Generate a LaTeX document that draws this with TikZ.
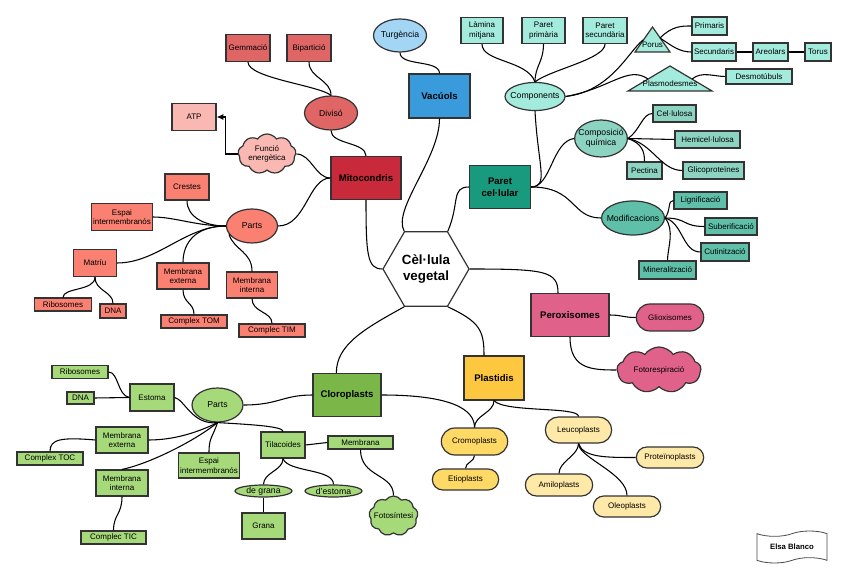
\documentclass[tikz,border=0pt]{standalone}
\usepackage{fontspec}
\setmainfont{Liberation Sans}
\usepackage{tikz}
\usetikzlibrary{arrows.meta,shapes.geometric,shapes.misc,shapes.symbols}
\definecolor{mitored}{HTML}{C92A3B}
\definecolor{mitolight}{HTML}{E06666}
\definecolor{mitopink}{HTML}{F9B9B2}
\definecolor{salmon}{HTML}{FA8072}
\definecolor{vacblue}{HTML}{3A9BDC}
\definecolor{vaclight}{HTML}{A3D5F5}
\definecolor{paretgreen}{HTML}{19997D}
\definecolor{aqua}{HTML}{A3EBDC}
\definecolor{tealmid}{HTML}{8DD3C2}
\definecolor{tealdark}{HTML}{5FBFA8}
\definecolor{peroxpink}{HTML}{E0628B}
\definecolor{chlgreen}{HTML}{7AB648}
\definecolor{chllight}{HTML}{A5D97A}
\definecolor{plastyellow}{HTML}{FDC73F}
\definecolor{yellowmid}{HTML}{FFD966}
\definecolor{yellowlight}{HTML}{FFE9A8}
\tikzset{
  sz/.style 2 args={minimum width=#1*.75pt,minimum height=#2*.75pt},
  box/.style={draw=black!80,line width=.9pt,fill=#1,align=center,inner sep=1pt,font=\fontsize{6}{7}\selectfont},
  box/.default=white,
  mainbox/.style={box=#1,font=\fontsize{7.2}{8.8}\selectfont\bfseries},
  oval/.style={box=#1,ellipse,inner xsep=-3pt,inner ysep=0pt,font=\fontsize{6.5}{7.5}\selectfont},
  pill/.style={box=#1,rounded rectangle},
  puff/.style={box=#1,cloud,cloud puffs=9,cloud puff arc=110,cloud ignores aspect,inner xsep=-2pt,inner ysep=0pt},
  tri/.style={draw=black!80,line width=.9pt,fill=aqua},
  link/.style={line width=.8pt},
}

\begin{document}
\begin{tikzpicture}[x=0.75pt,y=-0.75pt]
  \useasboundingbox (0,0) rectangle (848,580);
  % centre and main groups
  \node[draw=black!80,line width=.9pt,fill=white,regular polygon,regular polygon sides=6,minimum size=86*.75pt,inner sep=0pt,align=center,font=\fontsize{10}{12.5}\selectfont\bfseries] (cell) at (426,269) {Cèl·lula\\vegetal};
  \node[mainbox=mitored,sz={70}{43}] (mito) at (366,178) {Mitocondris};
  \node[mainbox=vacblue,sz={61}{44}] (vac) at (439.5,96) {Vacúols};
  \node[mainbox=paretgreen,sz={61}{43}] (par) at (500,187) {Paret\\cel·lular};
  \node[mainbox=peroxpink,sz={78}{43}] (perox) at (570,315) {Peroxisomes};
  \node[mainbox=chlgreen,sz={68}{43}] (chl) at (347,395) {Cloroplasts};
  \node[mainbox=plastyellow,sz={60}{44}] (plast) at (494,378) {Plastidis};

  % mitocondris
  \node[oval=mitolight,sz={53}{34}] (div) at (331,113) {Divisó};
  \node[box=mitolight,sz={44}{27}] (gem) at (248,48) {Gemmació};
  \node[box=mitolight,sz={44}{27}] (bip) at (309,48) {Bipartició};
  \node[puff=mitopink,sz={58}{40}] (fe) at (267,154) {Funció\\energètica};
  \node[box=mitopink,sz={44}{27}] (atp) at (194,117) {ATP};
  \node[oval=salmon,sz={51}{34}] (parts1) at (252,226) {Parts};
  \node[box=salmon,sz={44}{26}] (crest) at (187,187) {Crestes};
  \node[box=salmon,sz={60}{27}] (espai1) at (122,217) {Espai\\intermembranós};
  \node[box=salmon,sz={43}{27}] (matriu) at (95,263) {Matríu};
  \node[box=salmon,sz={52}{26}] (mext1) at (183,276) {Membrana\\externa};
  \node[box=salmon,sz={51}{26}] (mint1) at (252,285) {Membrana\\interna};
  \node[box=salmon,sz={57}{13}] (ribo1) at (63,304.5) {Ribosomes};
  \node[box=salmon,sz={26}{14}] (dna1) at (113,311) {DNA};
  \node[box=salmon,sz={66}{13}] (tom) at (194,321.5) {Complex TOM};
  \node[box=salmon,sz={66}{13}] (tim) at (272,330.5) {Complec TIM};

  % vacuols
  \node[oval=vaclight,sz={53}{33}] (turg) at (400,35.5) {Turgència};

  % paret cel.lular
  \node[oval=aqua,sz={60}{28}] (comp) at (535,96.5) {Components};
  \node[box=aqua,sz={42}{26}] (lam) at (482,30.5) {Làmina\\mitjana};
  \node[box=aqua,sz={43}{26}] (pp) at (543.5,30.5) {Paret\\primària};
  \node[box=aqua,sz={44}{26}] (ps) at (605,30.5) {Paret\\secundària};
  \draw[tri] (635,52) -- (652.5,27) -- (670,52) -- cycle;
  \node[font=\fontsize{6}{7}\selectfont,inner sep=0pt] (porus) at (652.5,44.5) {Porus};
  \draw[tri] (628,91) -- (670,66) -- (712,91) -- cycle;
  \node[font=\fontsize{6}{7}\selectfont,inner sep=0pt] (plasmo) at (670,84) {Plasmodesmes};
  \coordinate (porusL) at (643,40);
  \coordinate (porusR) at (660,38);
  \coordinate (plasL) at (648,79);
  \coordinate (plasR) at (692,79);
  \node[box=aqua,sz={35}{18}] (prim) at (709.5,26) {Primaris};
  \node[box=aqua,sz={44}{18}] (secu) at (714,52) {Secundaris};
  \node[box=aqua,sz={35}{18}] (areo) at (770.5,52) {Areolars};
  \node[box=aqua,sz={26}{18}] (torus) at (818,52) {Torus};
  \node[box=aqua,sz={66}{15}] (desmo) at (759,76.5) {Desmotúbuls};
  \node[oval=tealmid,sz={52}{37}] (compq) at (601,138.5) {Composició\\química};
  \node[box=tealmid,sz={43}{17}] (cel) at (674.5,113.5) {Cel·lulosa};
  \node[box=tealmid,sz={65}{17}] (hemi) at (707.5,139.5) {Hemicel·lulosa};
  \node[box=tealmid,sz={35}{17}] (pect) at (644.5,170.5) {Pectina};
  \node[box=tealmid,sz={61}{17}] (glic) at (713.5,170.5) {Glicoproteïnes};
  \node[oval=tealdark,sz={58}{34}] (modif) at (633,218) {Modificacions};
  \node[box=tealdark,sz={53}{17}] (lig) at (700.5,200.5) {Lignificació};
  \node[box=tealdark,sz={52}{17}] (sub) at (731,226.5) {Suberificació};
  \node[box=tealdark,sz={48}{18}] (cut) at (725,252) {Cutinització};
  \node[box=tealdark,sz={57}{18}] (mine) at (667.5,270) {Mineralització};

  % peroxisomes
  \node[pill=peroxpink,sz={70}{27}] (gliox) at (670,317.5) {Glioxisomes};
  \node[puff=peroxpink,sz={84}{46}] (foto) at (659,370) {Fotorespiració};

  % cloroplasts
  \node[oval=chllight,sz={51}{34}] (parts2) at (217.5,405) {Parts};
  \node[box=chllight,sz={44}{27}] (estoma) at (152,397.5) {Estoma};
  \node[box=chllight,sz={56}{13}] (ribo2) at (80,372) {Ribosomes};
  \node[box=chllight,sz={27}{12}] (dna2) at (80.5,398) {DNA};
  \node[box=chllight,sz={52}{26}] (mext2) at (122,440) {Membrana\\externa};
  \node[box=chllight,sz={66}{13}] (toc) at (50,458.5) {Complex TOC};
  \node[box=chllight,sz={52}{26}] (mint2) at (122,483) {Membrana\\interna};
  \node[box=chllight,sz={65}{13}] (tic) at (113.5,537.5) {Complec TIC};
  \node[box=chllight,sz={60}{25}] (espai2) at (209,465.5) {Espai\\intermembranós};
  \node[box=chllight,sz={44}{26}] (til) at (283,445) {Tilacoides};
  \node[box=chllight,sz={65}{13}] (memb) at (360.5,442.5) {Membrana};
  \node[oval=chllight,sz={57}{12}] (dgrana) at (263.5,491) {de grana};
  \node[oval=chllight,sz={57}{12}] (destoma) at (333.5,491) {d'estoma};
  \node[box=chllight,sz={43}{26}] (grana) at (263.5,526) {Grana};
  \node[puff=chllight,sz={49}{40}] (fotos) at (393.5,516) {Fotosíntesi};

  % plastidis
  \node[pill=yellowmid,sz={69}{27}] (crom) at (474.5,441.5) {Cromoplasts};
  \node[pill=yellowmid,sz={69}{21}] (etio) at (465.5,479.5) {Etioplasts};
  \node[pill=yellowlight,sz={69}{26}] (leuc) at (578.5,430) {Leucoplasts};
  \node[pill=yellowlight,sz={70}{22}] (amil) at (559,485) {Amiloplasts};
  \node[pill=yellowlight,sz={70}{21}] (oleo) at (627,506.5) {Oleoplasts};
  \node[pill=yellowlight,sz={70}{21}] (prot) at (670,457.5) {Proteïnoplasts};

  \node[tape,draw=black!70,line width=.6pt,fill=white,sz={70}{32},tape bend height=4pt,font=\fontsize{5.8}{7}\selectfont\bfseries] (author) at (792,547) {Elsa Blanco};

  % links from the centre
  \draw[link] (mito.south) .. controls +(0,55) and +(-15,0) .. (cell.180);
  \draw[link] (cell.120) .. controls +(-12,-22) and +(0,40) .. (vac.south);
  \draw[link] (cell.60) .. controls +(12,-28) and +(-18,0) .. (par.west);
  \draw[link] (cell.0) .. controls +(75,0) and +(0,-22) .. ([xshift=-9pt]perox.north);
  \draw[link] (cell.240) .. controls +(-40,22) and +(0,-28) .. ([xshift=-8pt]chl.north);
  \draw[link] (cell.300) .. controls +(32,15) and +(0,-25) .. ([xshift=-7.5pt]plast.north);

  % mitocondris links
  \draw[link] (mito.north) .. controls +(0,-14) and +(0,14) .. (div.south);
  \draw[link] (gem.south) .. controls +(0,16) and +(-12,-10) .. (div.north);
  \draw[link] (bip.south) .. controls +(0,16) and +(0,-16) .. (div.north);
  \draw[link] (fe.east) .. controls +(15,0) and +(-15,0) .. (mito.west);
  \draw[link] (parts1.east) .. controls +(28,0) and +(-22,0) .. (mito.west);
  \draw[link,-{Latex[length=5pt,width=4.5pt]}] (fe.west) -- ++(-12,0) |- (atp.east);
  \draw[link] (parts1.west) .. controls +(-22,0) and +(0,16) .. (crest.south);
  \draw[link] (parts1.west) .. controls +(-30,0) and +(22,0) .. (espai1.east);
  \draw[link] (parts1.west) .. controls +(-40,0) and +(40,0) .. (matriu.east);
  \draw[link] (parts1.west) .. controls +(-30,0) and +(0,-20) .. (mext1.north);
  \draw[link] (parts1.200) .. controls +(5,16) and +(0,-20) .. (mint1.north);
  \draw[link] (matriu.south) .. controls +(0,14) and +(0,-10) .. (ribo1.north);
  \draw[link] (matriu.south) .. controls +(0,14) and +(0,-12) .. (dna1.north);
  \draw[link] (mext1.south) .. controls +(0,14) and +(0,-12) .. (tom.north);
  \draw[link] (mint1.south) .. controls +(0,14) and +(0,-12) .. (tim.north);

  % vacuols links
  \draw[link] (turg.south) .. controls +(0,14) and +(0,-14) .. (vac.north);

  % paret links
  \draw[link] (lam.south) .. controls +(0,18) and +(-8,-22) .. (comp.north);
  \draw[link] (pp.south) .. controls +(0,18) and +(0,-16) .. (comp.north);
  \draw[link] (ps.south) .. controls +(0,15) and +(15,-12) .. (comp.north);
  \draw[link] (comp.south) .. controls +(3,55) and +(18,0) .. (par.east);
  \draw[link] (compq.west) .. controls +(-22,3) and +(20,0) .. (par.east);
  \draw[link] (par.east) .. controls +(45,0) and +(-30,0) .. (modif.west);
  \draw[link] (comp.east) .. controls +(45,-5) and +(-15,12) .. (porusL);
  \draw[link] (comp.east) .. controls +(45,-8) and +(-20,-14) .. (plasL);
  \draw[link] (porusR) .. controls +(12,-12) and +(-10,0) .. (prim.west);
  \draw[link] (porusR) .. controls +(12,8) and +(-12,0) .. (secu.west);
  \draw[link] (secu) -- (areo) (areo) -- (torus);
  \draw[link] (plasR) .. controls +(10,-8) and +(-12,0) .. (desmo.west);
  \draw[link] (compq.east) .. controls +(12,-8) and +(-10,0) .. (cel.west);
  \draw[link] (compq.east) -- (hemi.west);
  \draw[link] (compq.east) .. controls +(14,5) and +(0,-10) .. (pect.north);
  \draw[link] (compq.east) .. controls +(25,5) and +(-22,0) .. (glic.west);
  \draw[link] (modif.east) .. controls +(6,-8) and +(-6,0) .. (lig.west);
  \draw[link] (modif.east) .. controls +(22,0) and +(-22,0) .. (sub.west);
  \draw[link] (modif.east) .. controls +(18,5) and +(-18,0) .. (cut.west);
  \draw[link] (modif.east) .. controls +(10,12) and +(0,-12) .. (mine.north);

  % peroxisomes links
  \draw[link] (perox.east) .. controls +(12,0) and +(-12,0) .. (gliox.west);
  \draw[link] (perox.south) .. controls +(0,32) and +(-25,0) .. (foto.west);

  % cloroplasts links
  \draw[link] (parts2.east) .. controls +(35,0) and +(-30,0) .. (chl.west);
  \draw[link] (ribo2.east) .. controls +(10,0) and +(-12,-2) .. (estoma.west);
  \draw[link] (dna2.east) -- (estoma.west);
  \draw[link] (estoma.east) .. controls +(10,2) and +(-25,3) .. (parts2.south);
  \draw[link] (parts2.south) .. controls +(35,2) and +(0,-5) .. (til.north);
  \draw[link] (parts2.south) .. controls +(-20,10) and +(25,0) .. (mext2.east);
  \draw[link] (parts2.south) .. controls +(-25,20) and +(25,-5) .. (mint2.north);
  \draw[link] (parts2.south) .. controls +(-5,15) and +(0,-15) .. (espai2.north);
  \draw[link] (mext2.west) .. controls +(-35,-3) and +(0,-12) .. (toc.north);
  \draw[link] (mint2.south) .. controls +(0,18) and +(0,-16) .. (tic.north);
  \draw[link] (til.east) -- (memb.west);
  \draw[link] (til.south) .. controls +(0,12) and +(0,-12) .. (dgrana.north);
  \draw[link] (til.south) .. controls +(5,14) and +(0,-16) .. (destoma.north);
  \draw[link] (dgrana.south) -- (grana.north);
  \draw[link] (memb.south) .. controls +(0,28) and +(0,-22) .. (fotos.north);

  % plastidis links
  \draw[link] (plast.south) .. controls +(0,12) and +(0,-12) .. (crom.north);
  \draw[link] (plast.south) .. controls +(10,12) and +(0,-10) .. (leuc.north);
  \draw[link] (chl.east) .. controls +(70,0) and +(0,-18) .. (crom.north);
  \draw[link] (crom.south) .. controls +(0,6) and +(0,-6) .. (etio.north);
  \draw[link] (leuc.south) .. controls +(0,12) and +(0,-12) .. (amil.north);
  \draw[link] (leuc.south) .. controls +(0,14) and +(0,-22) .. (oleo.north);
  \draw[link] (leuc.south) .. controls +(5,14) and +(-30,0) .. (prot.west);
\end{tikzpicture}
\end{document}
